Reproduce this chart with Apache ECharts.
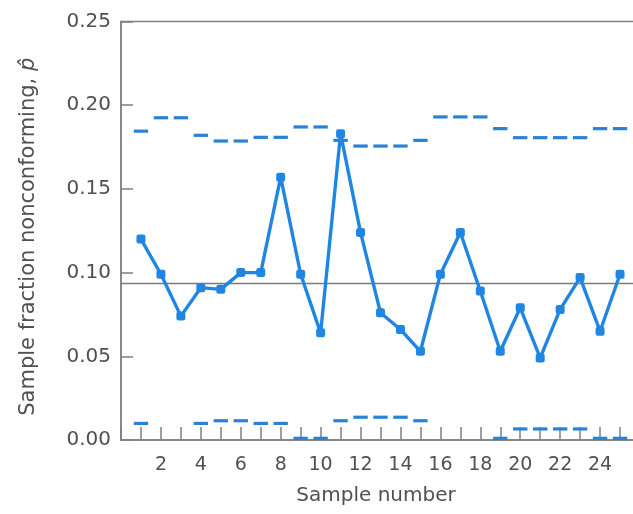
<!DOCTYPE html>
<html>
<head>
<meta charset="utf-8">
<script src="https://cdn.jsdelivr.net/npm/echarts@6/dist/echarts.min.js"></script>
<style>
  html, body { margin: 0; padding: 0; background: #ffffff; }
  #chart { width: 633px; height: 514px; }
</style>
</head>
<body>
<div id="chart"></div>
<script>
// p-chart: fraction nonconforming per sample with variable control limits
const samples = [1, 2, 3, 4, 5, 6, 7, 8, 9, 10, 11, 12, 13, 14, 15, 16, 17, 18, 19, 20, 21, 22, 23, 24, 25];
const fractionNonconforming = [0.120, 0.099, 0.074, 0.091, 0.090, 0.100, 0.100, 0.157, 0.099, 0.064,
  0.183, 0.124, 0.076, 0.066, 0.053, 0.099, 0.124, 0.089, 0.053, 0.079,
  0.049, 0.078, 0.097, 0.065, 0.099];
const upperLimit = [0.1845, 0.1925, 0.1925, 0.182, 0.1786, 0.1786, 0.1808, 0.1808, 0.187, 0.187,
  0.179, 0.1756, 0.1756, 0.1756, 0.179, 0.193, 0.193, 0.193, 0.186, 0.1806,
  0.1806, 0.1806, 0.1806, 0.186, 0.186];
const lowerLimit = [0.0099, null, null, 0.0099, 0.0115, 0.0115, 0.0099, 0.0099, 0.001, 0.001,
  0.0115, 0.0136, 0.0136, 0.0136, 0.0115, null, null, null, 0.001, 0.0066,
  0.0066, 0.0066, 0.0066, 0.001, 0.001];
const centerLine = 0.0935;
const yTicks = [0.00, 0.05, 0.10, 0.15, 0.20, 0.25];
const xLabels = [2, 4, 6, 8, 10, 12, 14, 16, 18, 20, 22, 24];

const blue = '#2186e2';
const limitBlue = '#2a82d6';
const axisGrey = '#808080';
const textGrey = '#505050';
const fontFamily = 'DejaVu Sans, sans-serif';

const chart = echarts.init(document.getElementById('chart'), null, { renderer: 'canvas' });

// short horizontal dash centred on each sample for a limit value
function limitDash(values) {
  return {
    type: 'custom',
    silent: true,
    z: 3,
    data: samples.map((s, i) => [s, values[i]]).filter(d => d[1] !== null),
    renderItem: function (params, api) {
      const s = api.value(0), v = api.value(1);
      const a = api.coord([s - 0.36, v]);
      const b = api.coord([s + 0.36, v]);
      return {
        type: 'line',
        shape: { x1: a[0], y1: a[1], x2: b[0], y2: b[1] },
        style: { stroke: limitBlue, lineWidth: 3.2 }
      };
    }
  };
}

chart.setOption({
  animation: false,
  backgroundColor: '#ffffff',
  grid: {
    left: 121, top: 21.5, width: 519, height: 418.5,
    containLabel: false, outerBoundsMode: 'none',
    show: true, borderColor: axisGrey, borderWidth: 1.5, backgroundColor: 'transparent'
  },
  xAxis: {
    type: 'value', min: 0, max: 26, interval: 1,
    name: 'Sample number', nameLocation: 'middle', nameGap: 46,
    nameTextStyle: { fontFamily, fontSize: 20, color: textGrey, padding: [0, 9, 0, 0] },
    axisLine: { show: true, onZero: false, lineStyle: { color: axisGrey, width: 1.5 } },
    axisTick: { show: true, inside: true, length: 13, lineStyle: { color: axisGrey, width: 1.5 } },
    splitLine: { show: false },
    axisLabel: {
      fontFamily, fontSize: 19, color: textGrey, margin: 16,
      formatter: v => (xLabels.indexOf(v) >= 0 ? String(v) : '')
    }
  },
  yAxis: {
    type: 'value', min: yTicks[0], max: yTicks[yTicks.length - 1], interval: 0.05,
    name: 'Sample fraction nonconforming, {i|p̂}', nameLocation: 'middle', nameGap: 82,
    nameTextStyle: {
      fontFamily, fontSize: 21, color: textGrey, padding: [0, 12, 0, 0],
      rich: { i: { fontFamily, fontSize: 21, color: textGrey, fontStyle: 'italic' } }
    },
    axisLine: { show: true, lineStyle: { color: axisGrey, width: 1.5 } },
    axisTick: { show: true, inside: true, length: 12, lineStyle: { color: axisGrey, width: 1.5 } },
    splitLine: { show: false },
    axisLabel: { fontFamily, fontSize: 20, color: textGrey, margin: 10, formatter: v => v.toFixed(2) }
  },
  series: [
    {
      type: 'line', silent: true, z: 1, symbol: 'none',
      data: [[0, centerLine], [26, centerLine]],
      lineStyle: { color: '#7a7a7a', width: 1.6 }
    },
    limitDash(upperLimit),
    limitDash(lowerLimit),
    {
      type: 'line', silent: true, z: 4,
      data: samples.map((s, i) => [s, fractionNonconforming[i]]),
      symbol: 'roundRect', symbolSize: 9,
      itemStyle: { color: blue },
      lineStyle: { color: blue, width: 3.4 }
    }
  ]
});
</script>
</body>
</html>
